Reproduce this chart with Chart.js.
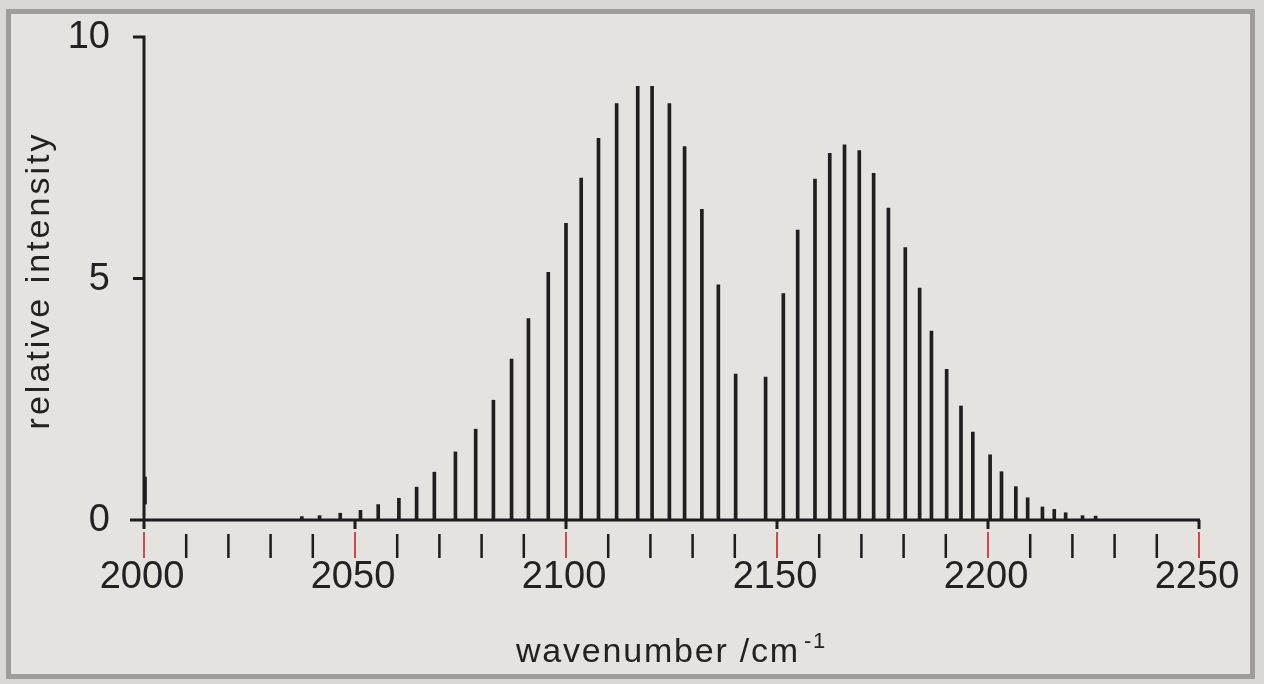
<!DOCTYPE html>
<html><head><meta charset="utf-8">
<script src="https://cdn.jsdelivr.net/npm/chart.js@4"></script>
<style>html,body{margin:0;padding:0;background:#d8d8d6;overflow:hidden}canvas{display:block}</style>
</head><body>
<canvas id="c" width="1264" height="684"></canvas>
<script>
// P-branch lines (wavenumber / cm-1) and relative intensities
const pWavenumbers = [2037.4, 2041.6, 2046.5, 2051.3, 2055.5, 2060.4, 2064.6, 2068.8, 2073.8, 2078.6, 2082.8, 2087.1, 2091.1, 2095.8, 2100.0, 2103.6, 2107.7, 2112.0, 2117.0, 2120.4, 2124.5, 2128.1, 2132.2, 2136.1, 2140.2];
const pIntensities = [0.07, 0.09, 0.14, 0.20, 0.32, 0.45, 0.68, 0.99, 1.41, 1.88, 2.48, 3.33, 4.17, 5.13, 6.14, 7.08, 7.90, 8.62, 8.98, 8.98, 8.62, 7.73, 6.43, 4.87, 3.02];
// R-branch lines
const rWavenumbers = [2147.3, 2151.5, 2154.9, 2159.0, 2162.5, 2166.0, 2169.5, 2172.9, 2176.4, 2180.4, 2183.8, 2186.6, 2190.2, 2193.6, 2196.4, 2200.5, 2203.2, 2206.6, 2209.4, 2212.9, 2215.7, 2218.4, 2222.4, 2225.5];
const rIntensities = [2.96, 4.69, 6.00, 7.06, 7.59, 7.77, 7.65, 7.18, 6.46, 5.64, 4.80, 3.91, 3.12, 2.36, 1.82, 1.35, 1.00, 0.69, 0.46, 0.27, 0.22, 0.15, 0.09, 0.08];
// short mark on the y axis at 2000
const edgeMarkX = [2000];
const edgeMarkRange = [[0.33, 0.89]];
// axes
const xMajorTicks = [2000, 2050, 2100, 2150, 2200, 2250];
const xMinorTicks = [2010, 2020, 2030, 2040, 2060, 2070, 2080, 2090, 2110, 2120, 2130, 2140, 2160, 2170, 2180, 2190, 2210, 2220, 2230, 2240];
const yTicks = [0, 5, 10];
const xTitle = 'wavenumber /cm';
const xTitleSup = '-1';
const yTitle = 'relative intensity';

const FONT = "'Liberation Sans', Arial, sans-serif";
const INK = '#1d1d1d';
const STICK = '#1f1f1f';
const RED = '#d04848';

const axesPlugin = {
  id: 'axesPlugin',
  beforeDraw(chart) {
    const ctx = chart.ctx, W = chart.width, H = chart.height;
    ctx.save();
    ctx.fillStyle = '#d8d8d6';
    ctx.fillRect(0, 0, W, H);
    ctx.fillStyle = '#e4e3df';
    ctx.fillRect(8, 11, 1245, 666);
    ctx.strokeStyle = '#9e9d99';
    ctx.lineWidth = 5;
    ctx.strokeRect(8.5, 11.5, 1244, 665);
    ctx.restore();
  },
  afterDatasetsDraw(chart) {
    const ctx = chart.ctx, xs = chart.scales.x, ys = chart.scales.y;
    const x0 = xs.getPixelForValue(xMajorTicks[0]);
    const xEnd = xs.getPixelForValue(xMajorTicks[xMajorTicks.length - 1]);
    const y0 = ys.getPixelForValue(0);
    const yTop = ys.getPixelForValue(yTicks[yTicks.length - 1]);
    ctx.save();
    ctx.strokeStyle = INK;
    ctx.lineWidth = 3;
    ctx.lineCap = 'butt';
    ctx.beginPath();
    // y axis
    ctx.moveTo(x0, yTop - 1.5); ctx.lineTo(x0, y0);
    // x axis
    ctx.moveTo(x0 - 14, y0); ctx.lineTo(xEnd + 1, y0);
    // y ticks
    yTicks.forEach(v => { const p = ys.getPixelForValue(v); ctx.moveTo(x0 - 11, p); ctx.lineTo(x0 + 1, p); });
    // major x ticks (black stub on axis)
    xMajorTicks.forEach(v => { const p = xs.getPixelForValue(v); ctx.moveTo(p, y0); ctx.lineTo(p, y0 + 9); });
    ctx.stroke();
    // minor ticks
    ctx.lineWidth = 2.5;
    ctx.beginPath();
    xMinorTicks.forEach(v => { const p = xs.getPixelForValue(v); ctx.moveTo(p, y0 + 14); ctx.lineTo(p, y0 + 38); });
    ctx.stroke();
    // red major ticks
    ctx.strokeStyle = RED;
    ctx.lineWidth = 2;
    ctx.beginPath();
    xMajorTicks.forEach(v => { const p = xs.getPixelForValue(v); ctx.moveTo(p, y0 + 12); ctx.lineTo(p, y0 + 38); });
    ctx.stroke();

    // tick labels
    ctx.fillStyle = '#222';
    ctx.font = '38px ' + FONT;
    ctx.textAlign = 'center';
    ctx.textBaseline = 'alphabetic';
    xMajorTicks.forEach(v => { const p = xs.getPixelForValue(v); ctx.fillText(String(v), p - 2, y0 + 68); });
    ctx.textAlign = 'right';
    ctx.textBaseline = 'middle';
    yTicks.forEach(v => { const p = ys.getPixelForValue(v); ctx.fillText(String(v), x0 - 34, p + 1); });

    // axis titles
    ctx.font = '34px ' + FONT;
    try { ctx.letterSpacing = '1.8px'; } catch (e) {}
    const mainW = ctx.measureText(xTitle).width;
    ctx.font = '22px ' + FONT;
    const supW = ctx.measureText(xTitleSup).width;
    const cx = (x0 + xEnd) / 2;
    const startX = cx - (mainW + 4 + supW) / 2;
    ctx.textAlign = 'left';
    ctx.textBaseline = 'alphabetic';
    ctx.font = '34px ' + FONT;
    ctx.fillText(xTitle, startX, 662);
    ctx.font = '22px ' + FONT;
    ctx.fillText(xTitleSup, startX + mainW + 4, 648);

    ctx.font = '34px ' + FONT;
    try { ctx.letterSpacing = '3px'; } catch (e) {}
    ctx.translate(49, (yTop + y0) / 2 + 2);
    ctx.rotate(-Math.PI / 2);
    ctx.textAlign = 'center';
    ctx.textBaseline = 'alphabetic';
    ctx.fillText(yTitle, 0, 0);
    ctx.restore();
  }
};

const toPts = (xsArr, ysArr) => xsArr.map((w, i) => ({ x: w, y: ysArr[i] }));

new Chart(document.getElementById('c'), {
  type: 'bar',
  data: {
    datasets: [
      { label: 'P branch', data: toPts(pWavenumbers, pIntensities), backgroundColor: STICK, barThickness: 3 },
      { label: 'R branch', data: toPts(rWavenumbers, rIntensities), backgroundColor: STICK, barThickness: 3 },
      { label: 'mark', data: toPts(edgeMarkX, edgeMarkRange), backgroundColor: STICK, barThickness: 5 }
    ]
  },
  options: {
    responsive: false,
    animation: false,
    devicePixelRatio: 1,
    layout: { padding: { left: 144, right: 1264 - 1199, top: 37, bottom: 684 - 520 } },
    plugins: { legend: { display: false }, tooltip: { enabled: false }, colors: { enabled: false } },
    datasets: { bar: { grouped: false, borderWidth: 0 } },
    scales: {
      x: { type: 'linear', min: 2000, max: 2250, offset: false, display: false },
      y: { type: 'linear', min: 0, max: 10, display: false }
    }
  },
  plugins: [axesPlugin]
});
</script>
</body></html>
